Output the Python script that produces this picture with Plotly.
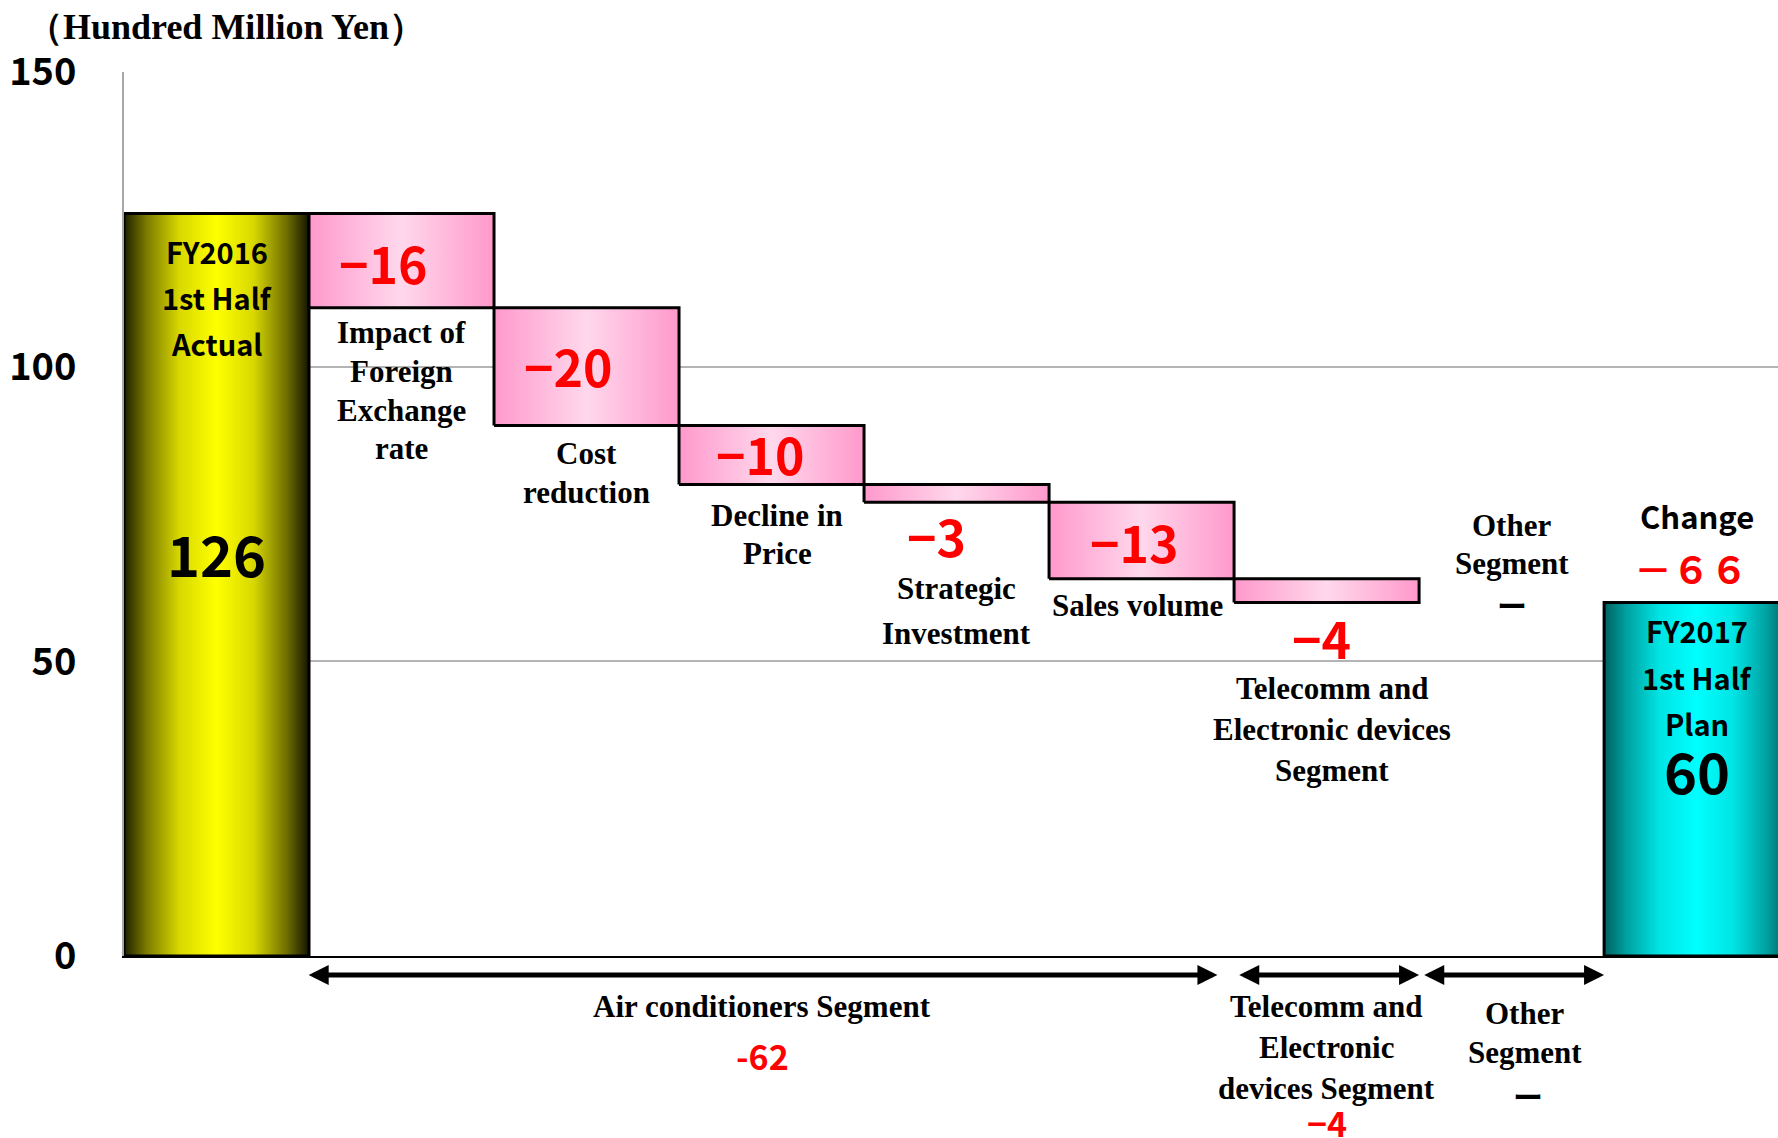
import plotly.graph_objects as go

# Operating income bridge, in hundred million yen
start_lines = ["FY2016", "1st Half", "Actual"]
start_value = 126
end_lines = ["FY2017", "1st Half", "Plan"]
end_value = 60

factor_names = [
    ["Impact of", "Foreign", "Exchange", "rate"],
    ["Cost", "reduction"],
    ["Decline in", "Price"],
    ["Strategic", "Investment"],
    ["Sales volume"],
    ["Telecomm and", "Electronic devices", "Segment"],
    ["Other", "Segment"],
]
factor_values = [-16, -20, -10, -3, -13, -4, 0]
factor_text = ["−16", "−20", "−10", "−3", "−13", "−4", "ー"]

segment_names = [
    ["Air conditioners Segment"],
    ["Telecomm and", "Electronic", "devices Segment"],
    ["Other", "Segment"],
]
segment_totals = [-62, -4, 0]
segment_text = ["-62", "−4", "ー"]

change_label = "Change"
change_text = "－６６"
unit_text = "（Hundred Million Yen）"
y_ticks = [0, 50, 100, 150]

SERIF = "Liberation Serif"
GOTHIC = "Noto Sans CJK JP"

YELLOW = [[0, "#1e1e00"], [0.12, "#7a7a00"], [0.3, "#d8d800"], [0.5, "#ffff00"],
          [0.7, "#d8d800"], [0.88, "#6e6e00"], [1, "#141400"]]
TEAL = [[0, "#006060"], [0.12, "#00a0a0"], [0.3, "#00e4e4"], [0.5, "#00ffff"],
        [0.7, "#00e4e4"], [0.88, "#00a0a0"], [1, "#005a5a"]]
PINK = [[0, "#ff99cc"], [0.5, "#ffd8ec"], [1, "#ff99cc"]]

fig = go.Figure()


def add_block(xc, lo, hi, scale):
    fig.add_trace(go.Scatter(
        x=[xc - 0.5, xc + 0.5, xc + 0.5, xc - 0.5, xc - 0.5],
        y=[lo, lo, hi, hi, lo],
        mode="lines", fill="toself",
        fillgradient=dict(type="horizontal", colorscale=scale),
        line=dict(color="black", width=3),
        hoverinfo="skip", showlegend=False,
    ))


def add_lines(lines, x, y, size, spacing, family, color="black", bold=False,
              xref="x", yref="y"):
    n = len(lines)
    for k, t in enumerate(lines):
        fig.add_annotation(
            x=x, y=y, xref=xref, yref=yref, text=t, showarrow=False,
            xanchor="center", yanchor="middle",
            yshift=((n - 1) / 2 - k) * spacing,
            font=dict(family=family, size=size, color=color,
                      weight="bold" if bold else "normal"),
        )


# starting total
add_block(0, 0, start_value, YELLOW)

# step changes
level = start_value
for i, d in enumerate(factor_values):
    top, bottom = level, level + d
    if d != 0:
        add_block(i + 1, bottom, top, PINK)
    level = bottom

# ending total
add_block(len(factor_values) + 1, 0, end_value, TEAL)

# labels on the total bars
add_lines(start_lines, 0, 111.8, 29, 46, GOTHIC, bold=True)
add_lines([str(start_value)], 0, 68.4, 56, 0, GOTHIC, bold=True)
xe = len(factor_values) + 1
add_lines(end_lines, xe, 47.4, 29, 46.5, GOTHIC, bold=True)
add_lines([str(end_value)], xe, 31.6, 56, 0, GOTHIC, bold=True)
add_lines([change_label], xe, 74.7, 31, 0, GOTHIC, bold=True)
add_lines([change_text], xe - 0.03, 66.0, 38, 0, GOTHIC, color="#ff0000", bold=True)

# value labels of the step changes
value_pos = [(0.9, 117.7), (1.905, 100.2), (2.94, 85.3), (3.89, 71.5),
             (4.96, 70.5), (5.97, 54.1)]
for (vx, vy), t in zip(value_pos, factor_text[:6]):
    add_lines([t], vx, vy, 50, 0, GOTHIC, color="#ff0000", bold=True)

# factor names
name_pos = [(1.0, 95.9, 38.6), (2.0, 82.0, 38.6), (3.03, 71.5, 38.6),
            (4.0, 58.6, 45), (4.98, 59.4, 0), (6.03, 38.5, 41), (7.0, 69.8, 38.6)]
for (nx, ny, sp), lines in zip(name_pos, factor_names):
    add_lines(lines, nx, ny, 31, sp, SERIF, bold=True)
add_lines([factor_text[6]], 7.0, 59.8, 30, 0, GOTHIC, bold=True)

# segment spans under the axis
spans = [(0.49, 5.41), (5.52, 6.5), (6.52, 7.5)]
arrow_y = -0.0215
for a, b in spans:
    fig.add_annotation(
        x=b, y=arrow_y, xref="x", yref="paper",
        ax=a, ay=0, axref="x", ayref="pixel",
        text="", showarrow=True, arrowhead=2, arrowside="end+start",
        arrowwidth=5, arrowsize=0.8, arrowcolor="black",
        standoff=0, startstandoff=0,
    )

add_lines(segment_names[0], 2.95, -0.0566, 31, 0, SERIF, bold=True, yref="paper")
add_lines([segment_text[0]], 2.95, -0.1131, 34, 0, GOTHIC, color="#ff0000", bold=True, yref="paper")
add_lines(segment_names[1], 6.0, -0.104, 31, 41, SERIF, bold=True, yref="paper")
add_lines([segment_text[1]], 6.0, -0.188, 34, 0, GOTHIC, color="#ff0000", bold=True, yref="paper")
add_lines(segment_names[2], 7.07, -0.0871, 31, 38.6, SERIF, bold=True, yref="paper")
add_lines([segment_text[2]], 7.09, -0.157, 30, 0, GOTHIC, bold=True, yref="paper")

# unit caption
fig.add_annotation(
    x=0.0617, y=1.051, xref="paper", yref="paper", text=unit_text,
    showarrow=False, xanchor="center", yanchor="middle",
    font=dict(family=SERIF, size=36, color="black", weight="bold"),
)

fig.update_layout(
    width=1778, height=1138,
    margin=dict(l=124, r=0, t=72, b=182),
    paper_bgcolor="white", plot_bgcolor="white",
    showlegend=False,
    xaxis=dict(range=[-0.5, 8.44], showgrid=False, zeroline=False,
               showticklabels=False, showline=True, linecolor="black",
               linewidth=2, fixedrange=True),
    yaxis=dict(range=[0, 150], tickvals=y_ticks, ticks="",
               ticklabelstandoff=38,
               tickfont=dict(family=GOTHIC, size=38, color="black", weight="bold"),
               showgrid=True, gridcolor="#b4b4b4", gridwidth=2,
               zeroline=False, showline=True, linecolor="#a8a8a8",
               linewidth=2, fixedrange=True),
)

fig.write_html("out.html")
